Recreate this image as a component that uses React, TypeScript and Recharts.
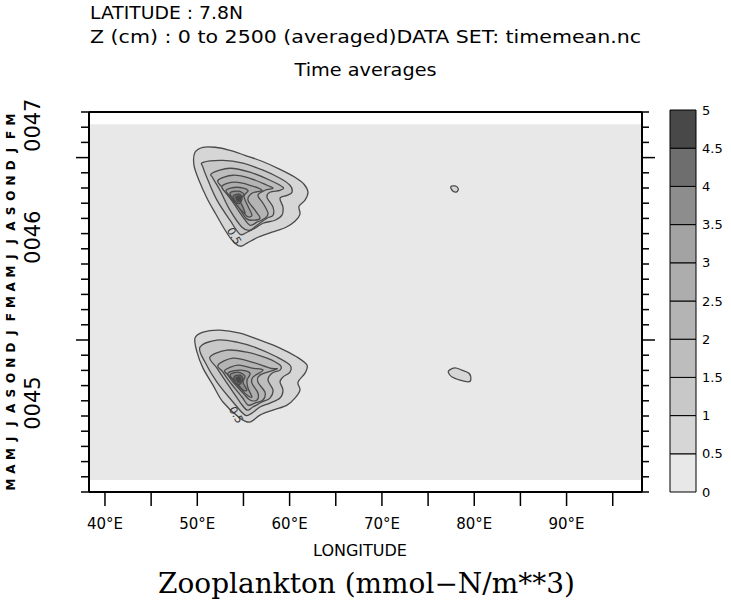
import React from "react";
import { ScatterChart, Scatter, XAxis, YAxis, ReferenceArea, BarChart, Bar } from "recharts";

const FONT = '"DejaVu Sans", sans-serif';
const SERIF = '"DejaVu Serif", serif';

// longitude axis (degrees east)
const lonDomain = [38.27, 98.17];
const lonTicks = [40, 45, 50, 55, 60, 65, 70, 75, 80, 85, 90, 95];
const lonLabelled = [40, 50, 60, 70, 80, 90];

// time axis: months counted from Jan 0045
const timeDomain = [2, 27];
const monthLetters = ["J", "F", "M", "A", "M", "J", "J", "A", "S", "O", "N", "D"];
const yearLabels = [
  { text: "0045", at: 7.85 },
  { text: "0046", at: 18.76 },
  { text: "0047", at: 26.13 },
];

// extent of the gridded field
const fieldLon = [38.27, 98.17];
const fieldTime = [2.79, 26.19];

// colour-key bins (mmol-N/m**3)
const keyBins = [0, 0.5, 1, 1.5, 2, 2.5, 3, 3.5, 4, 4.5];
const keyTicks = [0, 0.5, 1, 1.5, 2, 2.5, 3, 3.5, 4, 4.5, 5];

// bloom of year 0046: one closed ring [lon, month] per level 0.5, 1, ... 4.5
const bloom0046 = [
  [[49.75, 24.35], [50.62, 24.68], [51.92, 24.68], [53.54, 24.48], [55.17, 24.15], [57.01, 23.76], [58.96, 23.23], [60.58, 22.71], [61.56, 22.25], [61.99, 21.72], [61.67, 21.2], [61.02, 20.8], [61.12, 20.27], [60.58, 19.81], [59.61, 19.42], [58.09, 19.09], [56.57, 18.76], [55.38, 18.37], [54.62, 18.17], [53.76, 18.57], [52.89, 19.35], [52.02, 20.27], [51.05, 21.33], [50.18, 22.51], [49.64, 23.5]],
  [[50.62, 23.69], [52.78, 23.82], [54.95, 23.63], [57.12, 23.17], [58.96, 22.64], [60.04, 22.18], [60.26, 21.72], [59.72, 21.52], [58.96, 21.33], [59.28, 20.74], [59.17, 20.21], [58.42, 19.88], [57.12, 19.68], [56.25, 19.35], [55.38, 19.09], [54.62, 18.96], [53.54, 19.88], [52.13, 21.2], [51.16, 22.51], [50.62, 23.36]],
  [[51.59, 22.97], [53.54, 23.3], [55.71, 23.04], [57.87, 22.51], [59.28, 22.05], [58.96, 21.85], [57.87, 21.72], [57.55, 21.39], [58.2, 20.74], [58.2, 20.21], [57.55, 20.01], [56.47, 19.55], [55.71, 19.22], [54.84, 19.42], [53.54, 20.54], [52.46, 21.85], [51.7, 22.64]],
  [[52.24, 22.51], [53.87, 22.84], [55.71, 22.64], [57.55, 22.18], [58.2, 21.98], [57.33, 21.85], [56.57, 21.52], [57.12, 21.0], [57.66, 20.34], [57.33, 20.01], [56.47, 19.75], [55.71, 19.55], [54.95, 20.08], [53.87, 21.06], [52.78, 21.98]],
  [[52.67, 22.12], [54.08, 22.38], [55.71, 22.18], [57.01, 21.85], [55.92, 21.66], [55.49, 21.2], [56.25, 20.54], [56.79, 20.01], [55.92, 19.88], [55.27, 20.01], [54.41, 20.8], [53.32, 21.52]],
  [[53.11, 21.85], [54.3, 22.05], [55.49, 21.85], [55.06, 21.46], [55.49, 20.8], [55.92, 20.21], [55.38, 20.14], [54.62, 20.8], [53.76, 21.33]],
  [[53.54, 21.66], [54.41, 21.79], [55.06, 21.59], [54.62, 21.2], [54.95, 20.74], [55.17, 20.34], [54.73, 20.54], [54.08, 21.06]],
  [[53.87, 21.46], [54.52, 21.59], [54.84, 21.33], [54.62, 21.0], [54.19, 21.06]],
  [[54.19, 21.39], [54.62, 21.46], [54.73, 21.2], [54.41, 21.13]],
];

// bloom of year 0045
const bloom0045 = [
  [[49.75, 12.12], [50.62, 12.52], [52.46, 12.65], [54.62, 12.45], [56.79, 11.99], [58.96, 11.47], [60.8, 10.88], [61.88, 10.35], [61.67, 9.82], [60.91, 9.23], [61.12, 8.71], [60.58, 8.18], [59.72, 7.72], [58.2, 7.39], [56.79, 7.06], [55.71, 6.6], [54.62, 6.86], [52.78, 7.92], [51.7, 9.03], [50.62, 10.15], [49.97, 11.2]],
  [[50.29, 11.53], [52.13, 11.99], [54.3, 11.86], [56.47, 11.47], [58.63, 10.88], [60.04, 10.35], [60.04, 9.89], [59.28, 9.56], [58.96, 9.23], [59.28, 8.71], [58.96, 8.18], [57.87, 7.85], [56.79, 7.59], [55.92, 7.19], [55.17, 7.06], [53.87, 7.92], [52.13, 9.23], [50.83, 10.55]],
  [[51.37, 10.88], [53.21, 11.33], [55.38, 11.2], [57.55, 10.81], [58.96, 10.35], [58.96, 10.02], [58.09, 9.82], [57.66, 9.36], [58.2, 8.71], [57.87, 8.18], [57.01, 7.92], [56.03, 7.59], [55.38, 7.39], [54.62, 7.92], [53.21, 9.16], [52.13, 10.15]],
  [[52.24, 10.35], [53.87, 10.81], [55.92, 10.55], [57.87, 10.15], [58.63, 10.09], [56.79, 9.69], [56.57, 9.23], [57.33, 8.57], [57.12, 8.05], [56.25, 7.85], [55.49, 7.72], [54.84, 8.25], [53.54, 9.23], [52.78, 9.89]],
  [[53.0, 10.02], [54.41, 10.35], [55.92, 10.15], [57.12, 10.02], [56.03, 9.56], [55.92, 9.16], [56.57, 8.51], [56.47, 8.05], [55.71, 8.05], [54.95, 8.51], [53.87, 9.23], [53.32, 9.69]],
  [[53.32, 9.82], [54.62, 10.02], [55.71, 9.82], [55.38, 9.36], [55.49, 8.84], [55.92, 8.25], [55.38, 8.38], [54.62, 8.84], [53.87, 9.36]],
  [[53.54, 9.69], [54.41, 9.89], [55.17, 9.63], [54.95, 9.23], [55.38, 8.71], [54.95, 8.71], [54.3, 9.16]],
  [[53.97, 9.56], [54.62, 9.69], [54.95, 9.43], [54.62, 9.1], [54.19, 9.16]],
  [[54.19, 9.49], [54.62, 9.56], [54.73, 9.3], [54.41, 9.23]],
];

// small 0.5 patches near 78E
const patch0046 = [[77.45, 22.07], [77.92, 22.14], [78.27, 21.96], [78.1, 21.74], [77.67, 21.81]];
const patch0045 = [[77.3, 10.02], [77.92, 10.17], [78.64, 10.02], [79.46, 9.8], [79.62, 9.36], [79.36, 9.25], [78.46, 9.36], [77.56, 9.58], [77.19, 9.87]];

// contour labels
const contourLabels = [
  { lon: 53.97, month: 18.83, text: "0.5", angle: 60 },
  { lon: 54.19, month: 7.06, text: "0.5", angle: 60 },
];

const bandFill = ["#e8e8e8", "#d6d6d6", "#c8c8c8", "#bdbdbd", "#b4b4b4", "#adadad", "#a3a3a3", "#8d8d8d", "#6e6e6e", "#484848"];
const LINE = "#4a4a4a";

const toPoints = (ring: number[][]) => ring.map(([lon, month]) => ({ lon, month }));

// closed Catmull-Rom curve through the projected ring points
function closedCurve(pts: { x: number; y: number }[]) {
  const n = pts.length;
  if (!n) return "";
  let d = `M${pts[0].x},${pts[0].y}`;
  for (let i = 0; i < n; i++) {
    const p0 = pts[(i - 1 + n) % n];
    const p1 = pts[i];
    const p2 = pts[(i + 1) % n];
    const p3 = pts[(i + 2) % n];
    const c1x = p1.x + (p2.x - p0.x) / 6;
    const c1y = p1.y + (p2.y - p0.y) / 6;
    const c2x = p2.x - (p3.x - p1.x) / 6;
    const c2y = p2.y - (p3.y - p1.y) / 6;
    d += `C${c1x},${c1y} ${c2x},${c2y} ${p2.x},${p2.y}`;
  }
  return d + "Z";
}

const ringLine = (fill: string) => (props: any) => (
  <path d={closedCurve(props.points || [])} fill={fill} stroke={LINE} strokeWidth={1.3} />
);

const noDot = () => <g />;

const LabelDot = (props: any) => {
  const { cx, cy, payload } = props;
  return (
    <text x={cx} y={cy} transform={`rotate(${payload.angle}, ${cx}, ${cy})`} textAnchor="middle"
      dominantBaseline="central" fontSize={11} fontFamily={FONT} fill="#333">
      {payload.text}
    </text>
  );
};

const LeftTick = (props: any) => {
  const { x, y, payload } = props;
  const v = payload.value as number;
  const year = yearLabels.find((l) => l.at === v);
  if (year) {
    const cx = x - 56;
    return (
      <text x={cx} y={y} transform={`rotate(-90, ${cx}, ${y})`} textAnchor="middle" dominantBaseline="central"
        fontSize={21} fontFamily={FONT} fill="#000">
        {year.text}
      </text>
    );
  }
  if (Number.isInteger(v)) {
    const len = v % 12 === 0 ? 13 : 8;
    return <line x1={x - len} x2={x} y1={y} y2={y} stroke="#000" strokeWidth={1.5} />;
  }
  const cx = x - 78;
  return (
    <text x={cx} y={y} transform={`rotate(-90, ${cx}, ${y})`} textAnchor="middle" dominantBaseline="central"
      fontSize={12} fontWeight="bold" fontFamily={FONT} fill="#000">
      {monthLetters[Math.floor(v) % 12]}
    </text>
  );
};

const RightTick = (props: any) => {
  const { x, y, payload } = props;
  const v = payload.value as number;
  const len = v % 12 === 0 ? 13 : 7;
  return <line x1={x} x2={x + len} y1={y} y2={y} stroke="#000" strokeWidth={1.5} />;
};

const monthTicks: number[] = [];
for (let m = timeDomain[0]; m <= timeDomain[1]; m++) monthTicks.push(m);
const leftTicks = [
  ...monthTicks,
  ...monthTicks.slice(0, -1).map((m) => m + 0.5),
  ...yearLabels.map((l) => l.at),
].sort((a, b) => a - b);

const keyRow = [{ name: "key", ...Object.fromEntries(keyBins.map((b, i) => [`b${i}`, 0.5])) }];

export default function App() {
  const rings: { ring: number[][]; fill: string }[] = [];
  [bloom0046, bloom0045].forEach((bloom) =>
    bloom.forEach((ring, i) => rings.push({ ring, fill: bandFill[i + 1] }))
  );
  rings.push({ ring: patch0046, fill: bandFill[1] });
  rings.push({ ring: patch0045, fill: bandFill[1] });

  return (
    <div style={{ position: "absolute", left: 0, top: 0, width: 731, height: 604, background: "#fff" }}>
      <svg width={731} height={604} style={{ position: "absolute", left: 0, top: 0 }}>
        <g fontFamily={FONT} fill="#000">
          <text x={90} y={18.5} fontSize={17} textLength={153} lengthAdjust="spacingAndGlyphs">LATITUDE : 7.8N</text>
          <text x={90} y={43} fontSize={17} textLength={551} lengthAdjust="spacingAndGlyphs">
            Z (cm) : 0 to 2500 (averaged)DATA SET: timemean.nc
          </text>
          <text x={365.5} y={76} fontSize={17} textAnchor="middle" textLength={142} lengthAdjust="spacingAndGlyphs">Time averages</text>
          <text x={360} y={556} fontSize={16} textAnchor="middle">LONGITUDE</text>
        </g>
        <text x={158} y={593} fontSize={27} fontFamily={SERIF} fill="#000" textLength={417} lengthAdjust="spacingAndGlyphs">
          Zooplankton (mmol−N/m**3)
        </text>
      </svg>

      <div style={{ position: "absolute", left: 0, top: 0 }}>
        <ScatterChart width={660} height={560} margin={{ top: 98, right: 0, bottom: 8, left: 0 }}>
          <XAxis xAxisId="x" dataKey="lon" type="number" domain={lonDomain} allowDataOverflow ticks={lonTicks}
            interval={0} height={60} tickSize={14} tickMargin={12}
            tickFormatter={(v: number) => (lonLabelled.includes(v) ? `${v}°E` : "")}
            tick={{ fontSize: 15, fill: "#000", fontFamily: FONT }}
            axisLine={{ stroke: "#000", strokeWidth: 2 }} tickLine={{ stroke: "#000", strokeWidth: 1.5 }} />
          <XAxis xAxisId="top" orientation="top" type="number" domain={lonDomain} allowDataOverflow ticks={lonTicks}
            interval={0} height={14} tickSize={13} tickFormatter={() => ""}
            axisLine={{ stroke: "#000", strokeWidth: 2 }} tickLine={{ stroke: "#000", strokeWidth: 1.5 }} />
          <YAxis yAxisId="y" dataKey="month" type="number" domain={timeDomain} allowDataOverflow ticks={leftTicks}
            interval={0} width={89} tickSize={0} tickMargin={0} tickLine={false} tick={<LeftTick />}
            axisLine={{ stroke: "#000", strokeWidth: 2 }} />
          <YAxis yAxisId="r" orientation="right" type="number" domain={timeDomain} allowDataOverflow ticks={monthTicks}
            interval={0} width={18} tickSize={0} tickMargin={0} tickLine={false} tick={<RightTick />}
            axisLine={{ stroke: "#000", strokeWidth: 2 }} />

          <ReferenceArea xAxisId="x" yAxisId="y" x1={fieldLon[0]} x2={fieldLon[1]} y1={fieldTime[0]} y2={fieldTime[1]}
            fill={bandFill[0]} fillOpacity={1} stroke="none" ifOverflow="hidden" />

          {rings.map((r, i) => (
            <Scatter key={i} xAxisId="x" yAxisId="y" data={toPoints(r.ring)} line={ringLine(r.fill)}
              shape={noDot} isAnimationActive={false} />
          ))}
          <Scatter xAxisId="x" yAxisId="y" data={contourLabels} shape={<LabelDot />} isAnimationActive={false} />
        </ScatterChart>
      </div>

      <div style={{ position: "absolute", left: 660, top: 100 }}>
        <BarChart width={71} height={410} data={keyRow} margin={{ top: 10, right: 0, bottom: 18, left: 10 }}
          barCategoryGap={0} barGap={0}>
          <XAxis dataKey="name" type="category" hide />
          <YAxis orientation="right" type="number" domain={[0, 5]} ticks={keyTicks} interval={0} width={35}
            tickSize={0} tickMargin={6} tickLine={false} axisLine={false}
            tick={{ fontSize: 13, fill: "#000", fontFamily: FONT }} tickFormatter={(v: number) => String(v)} />
          {keyBins.map((b, i) => (
            <Bar key={b} dataKey={`b${i}`} stackId="key" fill={bandFill[i]} stroke="#000" strokeWidth={1}
              isAnimationActive={false} />
          ))}
        </BarChart>
      </div>
    </div>
  );
}
